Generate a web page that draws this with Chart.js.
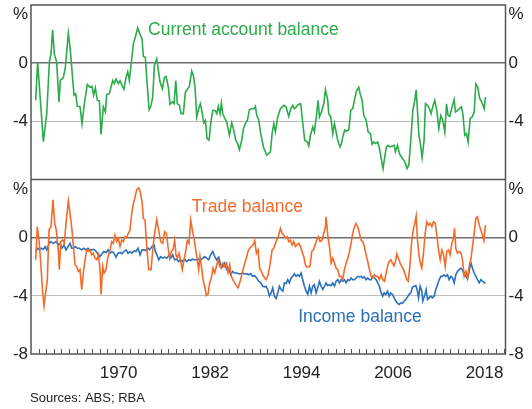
<!DOCTYPE html>
<html>
<head>
<meta charset="utf-8">
<script src="https://cdn.jsdelivr.net/npm/chart.js@4.4.1/dist/chart.umd.min.js"></script>
<style>
  html, body { margin: 0; padding: 0; background: #fff; }
</style>
</head>
<body>
<canvas id="chart" width="532" height="409"></canvas>
<script>
// ===== Data (per cent of GDP) =====
const caYears = [1959.61,1959.87,1960.62,1961.06,1961.41,1961.62,1961.84,1962.06,1962.37,1962.67,1962.85,1963.24,1963.51,1963.9,1964.12,1964.34,1964.64,1964.86,1965.08,1965.43,1965.69,1966.0,1966.39,1966.74,1967.0,1967.22,1967.44,1967.71,1967.97,1968.19,1968.49,1968.76,1968.93,1969.28,1969.5,1969.72,1969.94,1970.15,1970.46,1970.68,1970.9,1971.2,1971.47,1971.69,1971.9,1972.12,1972.43,1972.74,1973.0,1973.3,1973.57,1973.74,1974.0,1974.22,1974.49,1974.7,1974.97,1975.19,1975.49,1975.71,1975.93,1976.24,1976.5,1976.72,1977.02,1977.24,1977.55,1977.77,1977.99,1978.2,1978.47,1978.69,1978.99,1979.25,1979.56,1979.78,1980.08,1980.3,1980.52,1980.74,1981.0,1981.22,1981.44,1981.66,1981.88,1982.1,1982.36,1982.58,1982.84,1983.15,1983.37,1983.58,1983.8,1983.98,1984.15,1984.42,1984.68,1985.03,1985.33,1985.55,1985.86,1986.12,1986.34,1986.65,1986.87,1987.17,1987.39,1987.65,1987.96,1988.27,1988.44,1988.62,1988.88,1989.14,1989.49,1989.93,1990.41,1990.63,1990.85,1991.06,1991.37,1991.72,1992.16,1992.46,1992.81,1993.08,1993.34,1993.56,1993.82,1994.13,1994.39,1994.56,1994.91,1995.26,1995.44,1995.66,1995.96,1996.18,1996.45,1996.66,1996.84,1997.1,1997.41,1997.63,1997.93,1998.06,1998.33,1998.59,1998.81,1999.03,1999.24,1999.55,1999.73,1999.9,2000.16,2000.38,2000.69,2000.95,2001.21,2001.43,2001.7,2002.0,2002.18,2002.44,2002.66,2002.96,2003.23,2003.53,2003.75,2003.97,2004.19,2004.49,2004.71,2004.98,2005.19,2005.41,2005.63,2005.85,2006.11,2006.38,2006.64,2006.81,2007.08,2007.34,2007.6,2007.91,2008.13,2008.34,2008.56,2008.83,2009.09,2009.35,2009.53,2009.7,2009.87,2010.14,2010.31,2010.57,2010.75,2011.01,2011.27,2011.49,2011.71,2011.97,2012.24,2012.5,2012.76,2013.02,2013.29,2013.51,2013.72,2013.94,2014.25,2014.51,2014.69,2014.95,2015.21,2015.47,2015.65,2015.91,2016.13,2016.35,2016.61,2016.87,2017.14,2017.36,2017.62,2017.84,2018.01,2018.23,2018.45,2018.62];
const caValues = [-2.56,0.07,-5.4,-3.5,0.07,0.64,2.29,0.64,0.07,-2.67,-1.19,-1.0,-0.27,2.06,1.1,-0.27,-2.2,-2.1,-2.97,-3.0,-4.16,-2.79,-1.46,-1.65,-1.6,-2.2,-1.7,-2.56,-2.6,-4.9,-3.0,-3.36,-2.15,-2.1,-1.65,-1.19,-1.4,-1.1,-1.4,-1.2,-1.5,-1.8,-0.96,-0.6,-1.2,-0.16,1.33,1.9,2.42,2.0,1.67,0.46,0.4,-1.3,-3.2,-3.0,-2.33,-0.16,0.3,-0.5,-1.3,-1.76,-1.0,-0.91,-1.65,-2.83,-2.67,-2.79,-1.19,-2.79,-2.9,-3.47,-3.47,-2.0,-1.76,-1.6,-0.55,-0.85,-1.65,-3.7,-3.13,-2.79,-3.36,-4.1,-3.93,-5.19,-5.3,-4.16,-3.25,-3.25,-3.47,-2.97,-3.47,-2.74,-3.47,-3.8,-4.05,-4.96,-4.1,-4.5,-5.3,-5.53,-5.94,-5.3,-4.5,-4.1,-3.93,-3.2,-3.13,-3.13,-2.97,-3.6,-3.93,-4.85,-5.76,-6.33,-6.1,-4.85,-4.16,-4.73,-3.7,-3.13,-2.9,-3.0,-3.66,-3.13,-2.9,-3.13,-3.0,-2.83,-2.79,-3.7,-5.3,-5.42,-5.69,-4.96,-4.39,-4.73,-3.6,-2.56,-3.7,-3.36,-2.79,-1.83,-2.56,-3.47,-3.7,-4.85,-4.16,-4.73,-5.3,-5.76,-5.53,-5.07,-4.6,-4.68,-4.6,-3.25,-3.13,-2.56,-1.92,-1.65,-2.1,-2.56,-3.6,-3.9,-4.73,-4.85,-5.58,-5.42,-5.53,-5.42,-5.87,-6.67,-7.25,-6.45,-5.76,-5.65,-5.76,-5.69,-5.65,-6.1,-5.65,-6.22,-6.45,-6.67,-6.9,-7.25,-7.0,-5.3,-3.25,-2.56,-1.83,-3.25,-4.85,-5.76,-6.5,-5.3,-2.79,-2.9,-3.13,-3.47,-3.0,-2.56,-3.25,-4.5,-3.6,-3.93,-4.73,-2.79,-3.6,-3.66,-3.0,-2.51,-3.36,-3.25,-3.13,-3.0,-3.47,-4.96,-4.85,-5.42,-3.8,-3.7,-3.36,-1.42,-1.65,-2.38,-2.56,-2.79,-3.13,-2.33];

const tradeYears = [1959.61,1959.83,1960.05,1960.31,1960.53,1960.71,1960.92,1961.14,1961.36,1961.62,1961.89,1962.11,1962.32,1962.59,1962.72,1962.89,1963.16,1963.37,1963.59,1963.9,1964.12,1964.38,1964.56,1964.77,1964.99,1965.21,1965.43,1965.65,1965.87,1966.09,1966.31,1966.52,1966.74,1966.96,1967.18,1967.4,1967.62,1967.84,1968.06,1968.19,1968.41,1968.58,1968.84,1969.06,1969.37,1969.59,1969.8,1970.02,1970.24,1970.46,1970.68,1970.9,1971.12,1971.34,1971.55,1971.77,1971.99,1972.21,1972.43,1972.65,1972.87,1973.13,1973.35,1973.57,1973.74,1973.96,1974.18,1974.45,1974.75,1975.01,1975.22,1975.49,1975.75,1976.01,1976.27,1976.54,1976.76,1976.97,1977.19,1977.41,1977.63,1977.85,1978.02,1978.2,1978.42,1978.64,1978.86,1979.07,1979.29,1979.51,1979.73,1979.95,1980.17,1980.39,1980.61,1980.82,1981.0,1981.17,1981.35,1981.57,1981.79,1982.0,1982.22,1982.44,1982.66,1982.88,1983.1,1983.32,1983.54,1983.75,1983.97,1984.19,1984.41,1984.67,1984.85,1985.07,1985.29,1985.5,1985.72,1985.94,1986.16,1986.38,1986.6,1986.82,1987.04,1987.25,1987.47,1987.69,1987.91,1988.13,1988.35,1988.57,1988.79,1989.0,1989.22,1989.44,1989.84,1990.06,1990.28,1990.5,1990.63,1990.85,1991.06,1991.28,1991.5,1991.72,1991.94,1992.16,1992.38,1992.6,1992.81,1993.03,1993.25,1993.47,1993.69,1993.91,1994.13,1994.35,1994.56,1994.78,1995.0,1995.18,1995.4,1995.61,1995.83,1996.05,1996.27,1996.49,1996.71,1996.93,1997.19,1997.41,1997.63,1997.71,1997.93,1998.15,1998.37,1998.59,1998.81,1999.03,1999.25,1999.46,1999.68,1999.9,2000.12,2000.34,2000.56,2000.78,2000.99,2001.21,2001.43,2001.65,2001.87,2002.09,2002.31,2002.53,2002.74,2002.96,2003.18,2003.4,2003.62,2003.84,2004.06,2004.28,2004.49,2004.71,2004.93,2005.15,2005.37,2005.55,2005.77,2005.99,2006.2,2006.42,2006.64,2006.86,2006.99,2007.21,2007.43,2007.65,2007.87,2008.09,2008.3,2008.48,2008.7,2008.92,2009.14,2009.35,2009.53,2009.7,2009.92,2010.14,2010.27,2010.49,2010.71,2010.93,2011.15,2011.37,2011.59,2011.8,2012.02,2012.24,2012.46,2012.68,2012.9,2013.12,2013.34,2013.55,2013.77,2013.99,2014.21,2014.43,2014.56,2014.73,2014.95,2015.17,2015.39,2015.61,2015.83,2016.05,2016.27,2016.48,2016.7,2016.92,2017.14,2017.36,2017.58,2017.8,2018.02,2018.23,2018.41,2018.63];
const tradeValues = [-1.52,0.75,-0.16,-1.98,-3.8,-4.7,-3.8,-2.9,0.52,0.75,2.61,0.98,0.52,-0.95,-2.2,-0.27,-0.16,-0.39,0.98,2.52,1.66,0.52,-0.61,-1.86,-1.98,-2.32,-2.2,-3.57,-2.43,-1.52,-0.84,-0.95,-0.84,-1.18,-1.07,-1.41,-1.52,-1.18,-2.2,-3.9,-1.98,-2.43,-2.2,-1.41,-0.84,-0.27,-0.39,0.18,-0.27,-0.05,-0.61,-0.16,-0.27,0.07,0.02,0.3,0.52,1.66,2.34,2.8,3.3,3.43,3.14,2.45,1.32,1.2,-0.61,-2.2,-2.2,-0.61,0.3,1.25,0.52,-0.27,-0.39,0.41,0.3,-0.61,-1.41,-0.95,-0.84,-0.16,-1.18,-1.41,-1.07,-1.64,-2.2,-1.52,-0.95,-0.2,-0.39,1.2,0.52,-0.05,-0.84,-1.52,-2.2,-1.3,-1.98,-2.9,-3.34,-3.98,-3.9,-3.11,-2.77,-2.1,-2.43,-1.98,-1.52,-1.98,-2.1,-1.75,-1.98,-1.75,-2.39,-1.86,-2.66,-2.9,-3.11,-3.3,-3.45,-3.11,-2.66,-2.2,-1.75,-1.41,-0.95,-0.73,-0.61,-0.5,-0.2,-1.07,-0.84,-2.1,-2.32,-2.6,-2.89,-2.66,-2.1,-1.3,-0.84,-0.73,-0.39,-0.11,0.18,0.64,0.3,0.18,-0.05,0.07,-0.27,-0.16,-0.5,-0.27,-0.61,-0.5,-0.39,-0.61,-0.95,-1.3,-1.86,-2.02,-2.02,-1.93,-0.95,-0.84,-0.5,-0.16,0.07,-0.27,-0.16,0.3,0.75,1.43,0.18,-0.61,-1.75,-1.41,-1.75,-2.1,-2.2,-2.66,-2.66,-2.89,-2.2,-1.75,-1.41,-0.95,-0.39,0.3,0.75,0.98,0.75,0.3,-0.16,-0.27,-0.61,-1.18,-1.64,-2.2,-2.66,-2.77,-2.55,-2.66,-2.66,-2.89,-2.55,-2.89,-3.0,-2.55,-1.98,-1.64,-1.52,-1.75,-1.93,-1.52,-1.11,-1.41,-1.75,-1.98,-2.2,-2.55,-2.89,-3.0,-1.98,-0.39,0.52,0.98,1.48,-0.16,-1.3,-1.86,-2.1,-1.07,0.3,1.09,0.86,0.98,0.75,1.09,1.02,0.18,-0.84,-1.52,-0.84,-1.18,-1.98,-0.95,-0.84,-1.18,-0.39,-0.05,0.64,-0.73,-1.07,-0.95,-1.02,-1.52,-2.66,-2.32,-2.77,-1.98,-1.52,-0.61,0.3,1.32,1.43,0.86,0.52,0.18,-0.2,0.86];

const incomeYears = [1959.61,1959.83,1960.09,1960.31,1960.62,1960.84,1961.06,1961.36,1961.58,1961.93,1962.28,1962.59,1962.81,1963.07,1963.33,1963.59,1963.86,1964.12,1964.34,1964.56,1964.82,1965.08,1965.34,1965.65,1965.96,1966.22,1966.48,1966.74,1967.01,1967.27,1967.53,1967.79,1968.06,1968.32,1968.58,1968.84,1969.11,1969.37,1969.63,1969.89,1970.15,1970.42,1970.68,1970.94,1971.2,1971.47,1971.73,1971.99,1972.25,1972.52,1972.78,1973.04,1973.3,1973.57,1973.83,1974.09,1974.35,1974.57,1974.87,1975.14,1975.31,1975.53,1975.75,1976.01,1976.27,1976.54,1976.8,1977.06,1977.32,1977.59,1977.85,1978.11,1978.37,1978.64,1978.9,1979.16,1979.42,1979.69,1979.95,1980.21,1980.47,1980.74,1981.0,1981.26,1981.52,1981.79,1982.05,1982.31,1982.57,1982.84,1983.1,1983.36,1983.62,1983.89,1984.15,1984.41,1984.67,1984.94,1985.2,1985.46,1985.72,1985.99,1986.25,1986.51,1986.77,1987.04,1987.3,1987.56,1987.82,1988.09,1988.35,1988.61,1988.87,1989.14,1989.4,1989.66,1989.84,1990.06,1990.28,1990.5,1990.71,1990.93,1991.15,1991.37,1991.59,1991.81,1992.03,1992.25,1992.46,1992.68,1992.9,1993.12,1993.34,1993.56,1993.78,1994.0,1994.21,1994.43,1994.65,1994.87,1995.09,1995.31,1995.53,1995.75,1995.96,1996.18,1996.4,1996.62,1996.84,1997.06,1997.28,1997.5,1997.71,1997.93,1998.15,1998.37,1998.59,1998.81,1999.03,1999.25,1999.46,1999.68,1999.9,2000.12,2000.34,2000.56,2000.78,2000.99,2001.21,2001.43,2001.65,2001.87,2002.09,2002.31,2002.53,2002.74,2002.96,2003.18,2003.4,2003.62,2003.84,2004.06,2004.28,2004.49,2004.71,2004.93,2005.15,2005.33,2005.55,2005.77,2005.99,2006.2,2006.42,2006.64,2006.86,2007.08,2007.3,2007.52,2007.74,2007.95,2008.17,2008.39,2008.61,2008.83,2009.05,2009.27,2009.49,2009.7,2009.84,2010.05,2010.27,2010.4,2010.62,2010.84,2011.02,2011.24,2011.45,2011.67,2011.89,2012.11,2012.33,2012.55,2012.77,2012.99,2013.2,2013.42,2013.64,2013.86,2014.08,2014.3,2014.52,2014.73,2014.95,2015.17,2015.39,2015.61,2015.83,2016.05,2016.27,2016.48,2016.7,2016.92,2017.14,2017.36,2017.58,2017.8,2018.02,2018.23,2018.45,2018.63];
const incomeValues = [-0.95,-0.73,-0.84,-0.73,-0.8,-0.61,-0.84,-0.39,-0.27,-0.39,-0.27,-0.5,-0.39,-0.73,-0.5,-0.84,-0.61,-0.39,-0.73,-0.73,-0.61,-0.73,-0.73,-0.84,-0.73,-0.84,-0.73,-0.84,-0.84,-0.8,-0.95,-1.11,-1.3,-1.11,-0.95,-1.02,-0.84,-1.07,-0.95,-1.07,-1.34,-1.07,-1.02,-1.11,-0.95,-0.84,-1.07,-0.95,-1.07,-0.89,-0.95,-0.73,-1.18,-0.84,-0.84,-0.89,-0.73,-0.84,-0.61,-0.5,-0.95,-1.18,-1.52,-1.3,-1.41,-1.34,-1.41,-1.25,-1.41,-1.18,-1.52,-1.48,-1.64,-1.52,-1.64,-1.48,-1.64,-1.52,-1.57,-1.48,-1.52,-1.52,-1.48,-1.52,-1.43,-1.3,-1.41,-1.52,-1.18,-0.95,-1.3,-1.52,-1.34,-1.86,-2.02,-1.75,-2.2,-2.1,-2.55,-2.32,-2.43,-2.43,-2.48,-2.48,-2.43,-2.5,-2.48,-2.55,-2.48,-2.66,-2.61,-2.77,-3.0,-3.11,-3.34,-3.39,-3.34,-3.57,-4.02,-3.8,-3.45,-4.02,-4.18,-3.8,-3.34,-3.57,-3.68,-3.11,-3.16,-2.89,-3.11,-2.77,-2.66,-2.48,-2.66,-2.55,-2.66,-2.43,-2.89,-3.34,-3.68,-3.9,-3.34,-3.8,-3.34,-3.23,-3.8,-3.45,-3.0,-3.34,-3.57,-3.34,-3.11,-3.3,-3.23,-3.3,-3.11,-3.34,-3.0,-2.89,-3.11,-2.89,-3.0,-2.89,-3.11,-2.89,-2.95,-2.77,-2.89,-2.89,-2.77,-2.66,-2.7,-2.66,-2.77,-2.7,-2.89,-2.77,-2.89,-2.89,-2.66,-2.77,-2.89,-3.11,-3.34,-3.8,-4.02,-3.8,-3.9,-3.68,-4.02,-3.8,-3.9,-4.14,-4.36,-4.52,-4.59,-4.48,-4.52,-4.36,-4.25,-4.07,-3.9,-3.8,-3.39,-3.34,-3.3,-3.68,-4.14,-3.34,-3.68,-4.36,-4.02,-3.57,-4.25,-4.14,-4.02,-4.14,-4.02,-3.57,-3.23,-2.89,-2.66,-2.66,-2.55,-2.66,-2.55,-2.89,-2.66,-2.77,-3.11,-2.55,-2.32,-2.2,-2.1,-2.2,-2.55,-2.66,-2.84,-2.32,-1.7,-2.1,-2.43,-2.66,-2.89,-3.11,-2.89,-3.0,-3.11,-3.07];

// Axis settings
const X_MIN = 1959, X_MAX = 2021.25;
const labelYears = [1970, 1982, 1994, 2006, 2018];
const Y_MIN = -8, Y_MAX = 4;
const UNIT_POS = 3.35;   // where the "%" sits on each panel

// Colours
const GREEN = "#2bab4a";
const ORANGE = "#f26b2a";
const BLUE = "#2a70bb";
const TEXT = "#222";
const FONT = 'Arial, "Liberation Sans", sans-serif';

// Series labels, anchored in data units
const seriesLabels = [
  { text: "Current account balance", color: GREEN, axis: "yTopL", x: 1974.35, y: 2.25 },
  { text: "Trade balance", color: ORANGE, axis: "yBotL", x: 1980.1, y: 2.12 },
  { text: "Income balance", color: BLUE, axis: "yBotL", x: 1994.05, y: -5.5 }
];

function toPoints(xs, ys) { return xs.map((x, i) => ({ x, y: ys[i] })); }

function gridColor(v) {
  if (v === 0) return "#6e6e6e";
  if (v === -4) return "#bdbdbd";
  return "rgba(0,0,0,0)";
}

function yAxis(position, stack, withGrid, showBottom) {
  return {
    type: "linear",
    position,
    stack,
    stackWeight: 1,
    min: Y_MIN,
    max: Y_MAX,
    afterBuildTicks: s => {
      const vals = showBottom ? [UNIT_POS, 0, -4, -8] : [UNIT_POS, 0, -4];
      s.ticks = vals.map(v => ({ value: v }));
    },
    afterFit: s => {
      s.width = position === "left" ? 31 : 26.5;
      s.paddingTop = 0;
      s.paddingBottom = 0;
    },
    grid: {
      display: withGrid,
      drawTicks: false,
      color: c => gridColor(c.tick && c.tick.value),
      lineWidth: c => (c.tick && c.tick.value === 0 ? 1.5 : 1)
    },
    border: { display: false },
    ticks: {
      padding: 3,
      color: TEXT,
      font: { family: FONT, size: 17 },
      callback: v => (v === UNIT_POS ? "%" : String(v))
    }
  };
}

// Frame, year ticks, series labels and source note
const decorPlugin = {
  id: "decor",
  afterDatasetsDraw(chart) {
    const { ctx, chartArea: a, scales } = chart;
    ctx.save();

    // small year ticks along the bottom, pointing up
    ctx.strokeStyle = "#555";
    ctx.lineWidth = 1;
    for (let yr = Math.ceil(X_MIN) + 1; yr < X_MAX; yr++) {
      const px = Math.round(scales.x.getPixelForValue(yr)) + 0.5;
      ctx.beginPath();
      ctx.moveTo(px, a.bottom);
      ctx.lineTo(px, a.bottom - 5);
      ctx.stroke();
    }

    // frame + panel divider
    ctx.strokeStyle = "#555";
    ctx.lineWidth = 1.5;
    ctx.strokeRect(a.left, a.top, a.right - a.left, a.bottom - a.top);
    const mid = scales.yTopL.bottom;
    ctx.beginPath();
    ctx.moveTo(a.left, mid);
    ctx.lineTo(a.right, mid);
    ctx.stroke();

    // series labels
    ctx.font = "17.5px " + FONT;
    ctx.textBaseline = "middle";
    ctx.textAlign = "left";
    seriesLabels.forEach(l => {
      ctx.fillStyle = l.color;
      ctx.fillText(l.text, scales.x.getPixelForValue(l.x), scales[l.axis].getPixelForValue(l.y));
    });

    // source note
    ctx.fillStyle = TEXT;
    ctx.font = "13px " + FONT;
    ctx.fillText("Sources: ABS; RBA", 30, 398);
    ctx.restore();
  }
};

new Chart(document.getElementById("chart"), {
  type: "line",
  data: {
    datasets: [
      { label: "Trade balance", data: toPoints(tradeYears, tradeValues), yAxisID: "yBotL", borderColor: ORANGE },
      { label: "Income balance", data: toPoints(incomeYears, incomeValues), yAxisID: "yBotL", borderColor: BLUE },
      { label: "Current account balance", data: toPoints(caYears, caValues), yAxisID: "yTopL", borderColor: GREEN }
    ]
  },
  options: {
    responsive: false,
    animation: false,
    layout: { padding: { top: 5, bottom: 25, left: 0, right: 0 } },
    elements: {
      line: { borderWidth: 1.6, tension: 0, fill: false },
      point: { radius: 0 }
    },
    plugins: { legend: { display: false }, tooltip: { enabled: false } },
    scales: {
      x: {
        type: "linear",
        min: X_MIN,
        max: X_MAX,
        afterBuildTicks: s => { s.ticks = labelYears.map(y => ({ value: y + 0.5 })); },
        afterFit: s => {
          s.height = 30;
          s.paddingLeft = 0;
          s.paddingRight = 0;
        },
        grid: { display: false, drawTicks: false },
        border: { display: false },
        ticks: {
          padding: 9,
          maxRotation: 0,
          autoSkip: false,
          color: TEXT,
          font: { family: FONT, size: 17 },
          callback: v => String(Math.floor(v))
        }
      },
      yBotL: yAxis("left", "L", true, true),
      yTopL: yAxis("left", "L", true, false),
      yTopR: yAxis("right", "R", false, false),
      yBotR: yAxis("right", "R", false, true)
    }
  },
  plugins: [decorPlugin]
});
</script>
</body>
</html>
